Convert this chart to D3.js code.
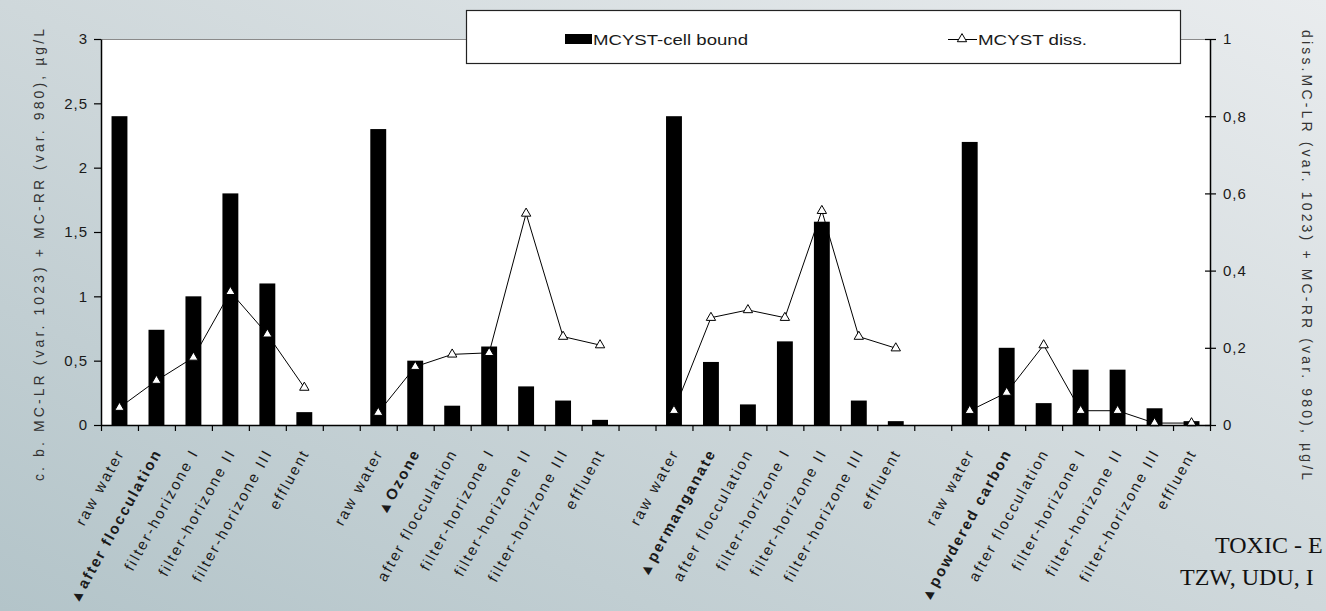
<!DOCTYPE html>
<meta charset="utf-8">
<style>
body { margin: 0; }
svg { display: block; }
text { font-family: "Liberation Sans", Arial, sans-serif; fill: #1a1a1a; }
text.serif { font-family: "Liberation Serif", "Times New Roman", serif; fill: #111; }
</style>
<body>
<script src="https://cdnjs.cloudflare.com/ajax/libs/d3/7.8.5/d3.min.js"></script>
<script>
// categories, "" = empty slot between the four treatment series
var labels = [
	"raw water", "▲after flocculation", "filter-horizone I", "filter-horizone II", "filter-horizone III", "effluent",
	"",
	"raw water", "▲Ozone", "after flocculation", "filter-horizone I", "filter-horizone II", "filter-horizone III", "effluent",
	"",
	"raw water", "▲permanganate", "after flocculation", "filter-horizone I", "filter-horizone II", "filter-horizone III", "effluent",
	"",
	"raw water", "▲powdered carbon", "after flocculation", "filter-horizone I", "filter-horizone II", "filter-horizone III", "effluent"
];
// MCYST-cell bound, left axis (µg/L)
var cellBound = [
	2.4, 0.74, 1.0, 1.8, 1.1, 0.1,
	null,
	2.3, 0.5, 0.15, 0.61, 0.3, 0.19, 0.04,
	null,
	2.4, 0.49, 0.16, 0.65, 1.58, 0.19, 0.03,
	null,
	2.2, 0.6, 0.17, 0.43, 0.43, 0.13, 0.03
];
// MCYST diss., right axis (µg/L)
var dissolved = [
	0.045, 0.115, 0.175, 0.345, 0.235, 0.097,
	null,
	0.032, 0.151, 0.183, 0.187, 0.548, 0.229, 0.207,
	null,
	0.037, 0.278, 0.298, 0.278, 0.555, 0.229, 0.199,
	null,
	0.037, 0.084, 0.207, 0.037, 0.037, 0.005, 0.005
];
var leftTicks = [0, 0.5, 1, 1.5, 2, 2.5, 3];
var rightTicks = [0, 0.2, 0.4, 0.6, 0.8, 1];
var legendNames = ["MCYST-cell bound", "MCYST diss."];
var leftTitle = "c. b. MC-LR (var. 1023) + MC-RR (var. 980), µg/L";
var rightTitle = "diss.MC-LR (var. 1023) + MC-RR (var. 980), µg/L";
var footer = ["TOXIC - E", "TZW, UDU, I"];

var w = 1326, h = 611;
var plot = {left: 101, right: 1210, top: 39, bottom: 425};

var svg = d3.select("body").append("svg")
	.attr("width", w)
	.attr("height", h);

var grad = svg.append("defs").append("linearGradient")
	.attr("id", "bg")
	.attr("x1", 0).attr("y1", 1).attr("x2", 1).attr("y2", 0);
grad.append("stop").attr("offset", 0).attr("stop-color", "#b3c4c9");
grad.append("stop").attr("offset", 0.5).attr("stop-color", "#cfd8db");
grad.append("stop").attr("offset", 1).attr("stop-color", "#e9ecee");
svg.append("rect").attr("width", w).attr("height", h).attr("fill", "url(#bg)");

var x = d3.scaleBand().domain(d3.range(labels.length)).range([plot.left, plot.right]);
var slots = d3.scaleLinear().domain([0, labels.length]).range([plot.left, plot.right]);
var yL = d3.scaleLinear().domain([0, 3]).range([plot.bottom, plot.top]);
var yR = d3.scaleLinear().domain([0, 1]).range([plot.bottom, plot.top]);
var fmt = d3.formatLocale({decimal: ",", thousands: ".", grouping: [3], currency: ["", ""]}).format("~g");
var cx = function(i) { return x(i) + x.bandwidth() / 2; };

// plot area
svg.append("rect")
	.attr("x", plot.left).attr("y", plot.top)
	.attr("width", plot.right - plot.left).attr("height", plot.bottom - plot.top)
	.attr("fill", "#fff");
svg.append("line")
	.attr("x1", plot.left).attr("x2", plot.right)
	.attr("y1", plot.top + 0.5).attr("y2", plot.top + 0.5)
	.attr("stroke", "#8a8a8a");

// bars
var bw = x.bandwidth() * 0.43;
svg.append("g").selectAll("rect")
	.data(cellBound.map(function(v, i) { return {i: i, v: v}; }).filter(function(d) { return d.v != null; }))
	.enter().append("rect")
	.attr("x", function(d) { return cx(d.i) - bw / 2; })
	.attr("y", function(d) { return yL(d.v); })
	.attr("width", bw)
	.attr("height", function(d) { return yL(0) - yL(d.v); })
	.attr("fill", "#000");

// dissolved line
var pts = dissolved.map(function(v, i) { return {i: i, v: v}; });
var line = d3.line()
	.defined(function(d) { return d.v != null; })
	.x(function(d) { return cx(d.i); })
	.y(function(d) { return yR(d.v); });
svg.append("path")
	.datum(pts)
	.attr("d", line)
	.attr("fill", "none")
	.attr("stroke", "#000")
	.attr("stroke-width", 1);

var tri = d3.symbol().type(d3.symbolTriangle).size(38);
svg.append("g").selectAll("path")
	.data(pts.filter(function(d) { return d.v != null; }))
	.enter().append("path")
	.attr("d", tri)
	.attr("transform", function(d) { return "translate(" + cx(d.i) + "," + yR(d.v) + ")"; })
	.attr("fill", "#fff")
	.attr("stroke", "#000")
	.attr("stroke-width", 1);

// axes
var gl = svg.append("g")
	.attr("transform", "translate(" + plot.left + ",0)")
	.call(d3.axisLeft(yL).tickValues(leftTicks).tickFormat(fmt).tickSize(7).tickSizeOuter(0).tickPadding(6));
var gr = svg.append("g")
	.attr("transform", "translate(" + plot.right + ",0)")
	.call(d3.axisRight(yR).tickValues(rightTicks).tickFormat(fmt).tickSize(6).tickSizeOuter(0).tickPadding(7));
gr.selectAll(".tick line").attr("x1", -5);
var gb = svg.append("g")
	.attr("transform", "translate(0," + plot.bottom + ")")
	.call(d3.axisBottom(slots).tickValues(d3.range(labels.length + 1)).tickFormat("").tickSize(6).tickSizeOuter(0));

[gl, gr, gb].forEach(function(g) {
	g.select(".domain").attr("stroke", "#000").attr("stroke-width", 1.5);
	g.selectAll(".tick line").attr("stroke", "#000").attr("stroke-width", 1.2);
	g.selectAll(".tick text")
		.attr("font-size", 15)
		.attr("letter-spacing", 1)
		.attr("fill", "#1a1a1a");
});

// category labels
svg.append("g").selectAll("text")
	.data(labels.map(function(t, i) { return {i: i, t: t}; }).filter(function(d) { return d.t; }))
	.enter().append("text")
	.attr("transform", function(d) { return "translate(" + (cx(d.i) + 1) + ",450) rotate(-61)"; })
	.attr("text-anchor", "end")
	.attr("dy", "0.35em")
	.attr("font-size", 15)
	.attr("font-weight", function(d) { return d.t[0] == "▲" ? "bold" : "normal"; })
	.attr("letter-spacing", function(d) { return d.t[0] == "▲" ? 2 : 2.2; })
	.text(function(d) { return d.t; });

// axis titles
svg.append("text")
	.attr("transform", "translate(44,255) rotate(-90)")
	.attr("text-anchor", "middle")
	.attr("font-size", 14)
	.style("fill", "#333")
	.attr("textLength", 452)
	.attr("lengthAdjust", "spacing")
	.text(leftTitle);
svg.append("text")
	.attr("transform", "translate(1302,255) rotate(90)")
	.attr("text-anchor", "middle")
	.attr("font-size", 14)
	.style("fill", "#333")
	.attr("textLength", 450)
	.attr("lengthAdjust", "spacing")
	.text(rightTitle);

// legend
var lg = svg.append("g");
lg.append("rect")
	.attr("x", 466.5).attr("y", 10.5)
	.attr("width", 714).attr("height", 53)
	.attr("fill", "#fff")
	.attr("stroke", "#222")
	.attr("stroke-width", 1.2);
lg.append("rect")
	.attr("x", 565).attr("y", 34)
	.attr("width", 27).attr("height", 10)
	.attr("fill", "#000");
lg.append("text")
	.attr("x", 593).attr("y", 45)
	.attr("font-size", 15)
	.attr("textLength", 155)
	.attr("lengthAdjust", "spacingAndGlyphs")
	.text(legendNames[0]);
lg.append("line")
	.attr("x1", 948).attr("x2", 977)
	.attr("y1", 39.5).attr("y2", 39.5)
	.attr("stroke", "#000");
lg.append("path")
	.attr("d", tri)
	.attr("transform", "translate(962,39)")
	.attr("fill", "#fff")
	.attr("stroke", "#000");
lg.append("text")
	.attr("x", 978).attr("y", 45)
	.attr("font-size", 15)
	.attr("textLength", 109)
	.attr("lengthAdjust", "spacingAndGlyphs")
	.text(legendNames[1]);

// footer text, cut by the window edge
svg.append("text")
	.attr("class", "serif")
	.attr("x", 1215).attr("y", 553)
	.attr("font-size", 24)
	.text(footer[0]);
svg.append("text")
	.attr("class", "serif")
	.attr("x", 1180).attr("y", 585)
	.attr("font-size", 24)
	.text(footer[1]);
</script>
</body>
